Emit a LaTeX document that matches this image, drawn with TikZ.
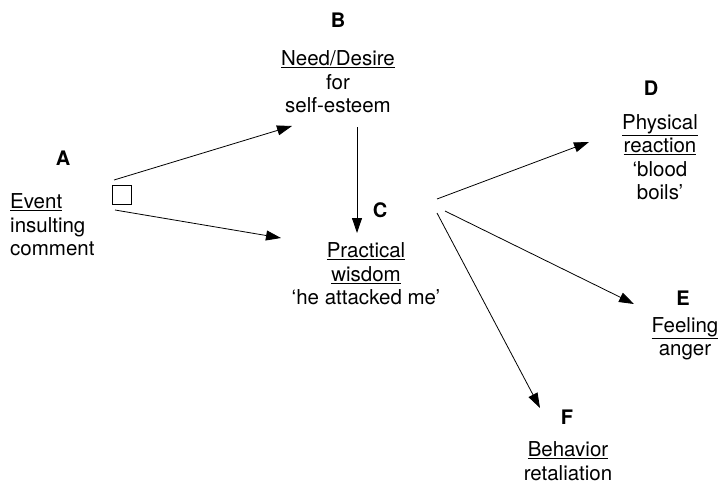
\documentclass[tikz,border=0pt]{standalone}
\usepackage{fontspec}
\setmainfont{TeX Gyre Heros}
\usetikzlibrary{arrows.meta}
\begin{document}
\begin{tikzpicture}[x=1pt,y=-1pt,
  txt/.style={inner sep=0pt,align=center,font=\fontsize{20.5}{23.5}\selectfont},
  lbl/.style={inner sep=0pt,font=\fontsize{20}{23}\selectfont\bfseries},
  arr/.style={line width=0.8pt,-{Triangle[length=15pt,width=10pt]}}]
\useasboundingbox (0,0) rectangle (722,484);
% labels
\node[lbl] (la) at (63,158) {A};
\node[lbl] (lb) at (338,20) {B};
\node[lbl] (lc) at (380,210) {C};
\node[lbl] (ld) at (651,88) {D};
\node[lbl] (le) at (683,298) {E};
\node[lbl] (lf) at (567,417) {F};
% texts
\node[txt,align=left,anchor=west] (ta) at (10,225) {\underline{Event}\\insulting\\comment};
\node[txt] (tb) at (338,82) {\underline{Need/Desire}\\for\\self-esteem};
\node[txt] (tc) at (366,274) {\underline{Practical}\\\underline{wisdom}\\`he attacked me'};
\node[txt] (td) at (660,157) {\underline{Physical}\\\underline{reaction}\\`blood\\boils'};
\node[txt] (te) at (685,339) {\underline{Feeling}\\anger};
\node[txt] (tf) at (568,461) {\underline{Behavior}\\retaliation};
% small square
\node[draw,line width=0.8pt,minimum size=19pt,inner sep=0pt] (sq) at (122,195) {};
% connector endpoints
\coordinate (a1) at (114,180);
\coordinate (a2) at (115,210);
\coordinate (bt) at (292,126);
\coordinate (ct) at (281,238);
\coordinate (b1) at (357,127);
\coordinate (c1) at (357,233);
\coordinate (cd) at (437,199);
\coordinate (ce) at (445,211);
\coordinate (cf) at (437,213);
\coordinate (dt) at (589,142);
\coordinate (et) at (634,304);
\coordinate (ft) at (540,408);
\draw[arr] (a1) -- (bt);
\draw[arr] (a2) -- (ct);
\draw[arr] (b1) -- (c1);
\draw[arr] (cd) -- (dt);
\draw[arr] (ce) -- (et);
\draw[arr] (cf) -- (ft);
\end{tikzpicture}
\end{document}
